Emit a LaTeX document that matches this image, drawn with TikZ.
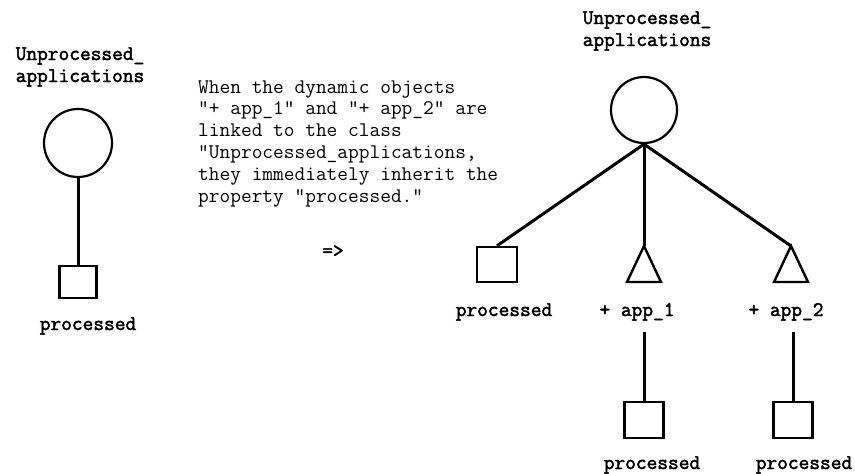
\documentclass[tikz,border=0pt]{standalone}
\usepackage{fontspec}
\newfontfamily\lmboldtt[FakeBold=2.2]{Latin Modern Mono}
\begin{document}
\begin{tikzpicture}[x=1pt,y=-1pt,
  lbl/.style={font=\lmboldtt\fontsize{20.8}{22}\selectfont, inner sep=0, anchor=base},
  desc/.style={font=\ttfamily\fontsize{20.8}{21.8}\selectfont, inner sep=0, anchor=base west, align=left},
  circ/.style={circle, draw, line width=2.2pt, inner sep=0},
  sq/.style={rectangle, draw, line width=2.4pt, inner sep=0},
  conn/.style={line width=3pt},
  tri/.style={line width=2.4pt, line join=miter}]
\useasboundingbox (0,0) rectangle (855,474);

% left part
\node[lbl] (lt1) at (80,60) {Unprocessed\_};
\node[lbl] (lt2) at (80,82) {applications};
\node[circ, minimum size=68pt] (lc) at (78,143) {};
\node[sq, minimum width=37pt, minimum height=32pt] (ls) at (78,282) {};
\node[lbl] (lp) at (88,330) {processed};
\draw[conn] (lc.south) -- (ls.north);

% description
\node[desc] (d) at (198,202) {When the dynamic objects\\"+ app\_1" and "+ app\_2" are\\linked to the class\\"Unprocessed\_applications,\\they immediately inherit the\\property "processed."};
\node[lbl] (arr) at (333,257) {=>};

% right part
\node[lbl] (rt1) at (647,24) {Unprocessed\_};
\node[lbl] (rt2) at (647,46) {applications};
\node[circ, minimum size=66pt] (rc) at (644,110) {};
\node[sq, minimum width=40pt, minimum height=35pt] (rs) at (497,264.5) {};
\coordinate (ta1) at (644,246);
\coordinate (ta2) at (791,246);
\draw[tri] (ta1) -- ++(-17,36) -- ++(34,0) -- cycle;
\draw[tri] (ta2) -- ++(-17,36) -- ++(34,0) -- cycle;
\draw[conn] (rc.south) -- (rs.north);
\draw[conn] (rc.south) -- (ta1);
\draw[conn] (rc.south) -- (ta2);

\node[lbl] (rp) at (504,316) {processed};
\node[lbl] (a1) at (637,316) {+ app\_1};
\node[lbl] (a2) at (786,316) {+ app\_2};

\coordinate (v1) at (644,332);
\coordinate (v2) at (793,332);
\node[sq, minimum width=39pt, minimum height=36pt] (bs1) at (644,420) {};
\node[sq, minimum width=39pt, minimum height=36pt] (bs2) at (793,420) {};
\draw[conn] (v1) -- (bs1.north);
\draw[conn] (v2) -- (bs2.north);
\node[lbl] (bp1) at (652,469) {processed};
\node[lbl] (bp2) at (804,469) {processed};
\end{tikzpicture}
\end{document}
